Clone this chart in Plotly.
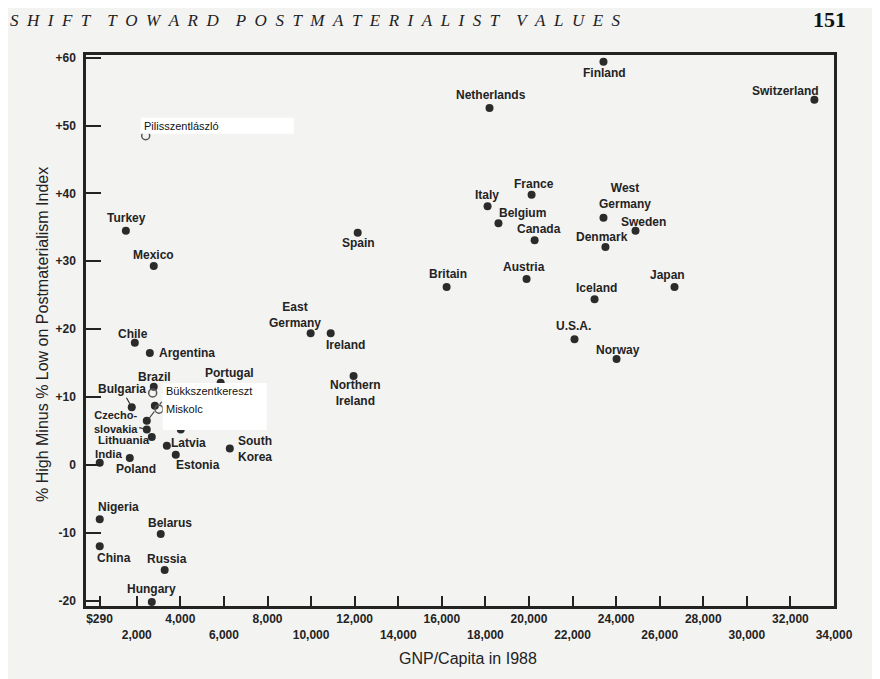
import plotly.graph_objects as go

# ---------------- data ----------------
countries = ["Finland", "Netherlands", "Switzerland", "Italy", "France", "Belgium", "Canada",
             "West<br>Germany", "Sweden", "Denmark", "Japan", "Austria", "Britain", "Iceland",
             "U.S.A.", "Norway", "Spain", "Turkey", "Mexico", "East<br>Germany", "Ireland",
             "Northern<br>Ireland", "Chile", "Argentina", "Brazil", "Portugal", "Bulgaria",
             "Czecho-<br>slovakia", "Lithuania", "Latvia", "Estonia", "South<br>Korea", "India",
             "Poland", "Nigeria", "China", "Belarus", "Russia", "Hungary"]
gnp = [23420, 18190, 33100, 18100, 20120, 18600, 20260,
       23420, 24890, 23510, 26680, 19890, 16220, 23010,
       22090, 24020, 12140, 1500, 2780, 9980, 10900,
       11950, 1910, 2600, 2780, 5850, 1770,
       2460, 2690, 3380, 3790, 6270, 300,
       1680, 300, 300, 3100, 3280, 2690]
postmat = [59.4, 52.6, 53.8, 38.1, 39.8, 35.6, 33.1,
           36.4, 34.5, 32.1, 26.2, 27.4, 26.2, 24.4,
           18.5, 15.6, 34.2, 34.5, 29.3, 19.4, 19.4,
           13.1, 18.0, 16.5, 11.5, 12.1, 8.5,
           5.2, 4.1, 2.8, 1.5, 2.4, 0.3,
           1.0, -8.0, -12.0, -10.2, -15.5, -20.2]

# unlabeled points (labels hidden in the source)
extra_gnp = [2460, 2830, 4020]
extra_postmat = [6.5, 8.7, 5.2]

# overlaid Hungarian localities
places = ["Pilisszentlászló", "Bükkszentkereszt", "Miskolc"]
places_gnp = [2410, 2730, 3020]
places_postmat = [48.5, 10.6, 8.2]

x_tickvals = [290, 2000, 4000, 6000, 8000, 10000, 12000, 14000, 16000, 18000,
              20000, 22000, 24000, 26000, 28000, 30000, 32000, 34000]
x_ticklabels = ["$290", "2,000", "4,000", "6,000", "8,000", "10,000", "12,000", "14,000",
                "16,000", "18,000", "20,000", "22,000", "24,000", "26,000", "28,000",
                "30,000", "32,000", "34,000"]
y_tickvals = [60, 50, 40, 30, 20, 10, 0, -10, -20]
y_ticklabels = ["+60", "+50", "+40", "+30", "+20", "+10", "0", "-10", "-20"]

# ---------------- styling (label offsets in px: dx right, dy down) ----------------
label_offsets = {
    "Finland": (1, 11), "Netherlands": (1, -13), "Switzerland": (-29, -9), "Italy": (-1, -11),
    "France": (2, -11), "Belgium": (24, -10), "Canada": (4, -11), "West<br>Germany": (22, -22),
    "Sweden": (8, -9), "Denmark": (-3, -10), "Japan": (-7, -12), "Austria": (-3, -12),
    "Britain": (1, -13), "Iceland": (2, -11), "U.S.A.": (-1, -13), "Norway": (1, -9),
    "Spain": (1, 10), "Turkey": (1, -13), "Mexico": (0, -11), "East<br>Germany": (-16, -18),
    "Ireland": (15, 12), "Northern<br>Ireland": (2, 17), "Chile": (-2, -9),
    "Argentina": (37, 0), "Brazil": (1, -10), "Portugal": (9, -10), "Bulgaria": (-10, -18),
    "Czecho-<br>slovakia": (-31, -8), "Lithuania": (-28, 3), "Latvia": (22, -3),
    "Estonia": (22, 10), "South<br>Korea": (25, 0), "India": (9, -9), "Poland": (6, 11),
    "Nigeria": (19, -12), "China": (14, 12), "Belarus": (9, -11), "Russia": (2, -11),
    "Hungary": (0, -13),
}
label_sizes = {"Czecho-<br>slovakia": 11, "Lithuania": 11.5, "India": 11.5}
leader_lines = {"Bulgaria", "Czecho-<br>slovakia"}
place_offsets = {"Pilisszentlászló": (-4, -10), "Bükkszentkereszt": (11, -2), "Miskolc": (5, 0)}

INK = "#232323"
BG = "#f3f3f2"
SANS = "Liberation Sans, Arial, sans-serif"
SERIF = "Liberation Serif, Times New Roman, serif"

# page offset of the figure inside the browser window
OFF = 8
W, H = 880, 679
L, R, T, B = 86 - OFF, W - (834 - OFF), 55 - OFF, H - (606 - OFF)
pw, ph = W - L - R, H - T - B


def px_x(sx):
    return (sx - OFF - L) / pw


def px_y(sy):
    return (H - B - (sy - OFF)) / ph


fig = go.Figure()

fig.add_trace(go.Scatter(
    x=gnp + extra_gnp, y=postmat + extra_postmat, mode="markers",
    marker=dict(size=8, color="#2b2b2b"), hoverinfo="skip", showlegend=False))

# white cover boxes (anchored to overlay locality points)
fig.add_shape(type="rect", xref="x", yref="y", xsizemode="pixel", ysizemode="pixel",
              xanchor=places_gnp[0], yanchor=places_postmat[0], x0=-5, x1=148, y0=2, y1=18,
              fillcolor="white", line=dict(width=0), layer="above")
fig.add_shape(type="rect", xref="x", yref="y", xsizemode="pixel", ysizemode="pixel",
              xanchor=places_gnp[1], yanchor=places_postmat[1], x0=10, x1=114, y0=-37, y1=10,
              fillcolor="white", line=dict(width=0), layer="above")
# dashed leader line from unlabeled point
fig.add_shape(type="line", xref="x", yref="y", xsizemode="pixel", ysizemode="pixel",
              xanchor=extra_gnp[0], yanchor=extra_postmat[0], x0=2, x1=15, y0=2, y1=19,
              line=dict(color="#444", width=1.2, dash="dash"), layer="above")

fig.add_trace(go.Scatter(
    x=places_gnp, y=places_postmat, mode="markers",
    marker=dict(size=8, symbol="circle-open", color="#555", line=dict(width=1.5)),
    hoverinfo="skip", showlegend=False))

annotations = []
for name, gx, py in zip(countries, gnp, postmat):
    dx, dy = label_offsets[name]
    annotations.append(dict(
        x=gx, y=py, xref="x", yref="y", text=name, showarrow=True,
        ax=dx, ay=dy, arrowhead=0, arrowwidth=1.1, standoff=4,
        arrowcolor=INK if name in leader_lines else "rgba(0,0,0,0)",
        font=dict(family=SANS, size=label_sizes.get(name, 12), color=INK, weight="bold"),
        align="center"))
for name, gx, py in zip(places, places_gnp, places_postmat):
    dx, dy = place_offsets[name]
    annotations.append(dict(
        x=gx, y=py, xref="x", yref="y", text=name, showarrow=False,
        xanchor="left", yanchor="middle", xshift=dx, yshift=-dy,
        font=dict(family=SANS, size=11, color="#111")))

# lower-row tick labels drop one line
x_ticktext = [lab if i % 2 == 0 else "<br>" + lab for i, lab in enumerate(x_ticklabels)]

# page header
header_words = ["SHIFT", "TOWARD", "POSTMATERIALIST", "VALUES"]
header = ("\u00a0" * 4).join(("\u00a0" * 2).join(w) for w in header_words)
annotations.append(dict(xref="paper", yref="paper", x=px_x(8), y=px_y(21),
                        xanchor="left", yanchor="middle", showarrow=False, text=header,
                        font=dict(family=SERIF, size=17, color="#222", style="italic")))
annotations.append(dict(xref="paper", yref="paper", x=px_x(829), y=px_y(19),
                        xanchor="center", yanchor="middle", showarrow=False, text="151",
                        font=dict(family=SERIF, size=22, color="#111", weight="bold")))
# axis titles
annotations.append(dict(xref="paper", yref="paper", x=px_x(468), y=px_y(658),
                        xanchor="center", yanchor="middle", showarrow=False,
                        text="GNP/Capita in I988",
                        font=dict(family=SANS, size=16, color="#222")))
annotations.append(dict(xref="paper", yref="paper", x=px_x(42), y=px_y(335),
                        xanchor="center", yanchor="middle", showarrow=False, textangle=-90,
                        text="% High Minus % Low on Postmaterialism Index",
                        font=dict(family=SANS, size=16, color="#222")))

fig.update_layout(
    width=W, height=H, margin=dict(l=L, r=R, t=T, b=B),
    paper_bgcolor=BG, plot_bgcolor=BG,
    annotations=annotations, showlegend=False,
    xaxis=dict(range=[-330, 34000], tickvals=x_tickvals, ticktext=x_ticktext,
               ticks="inside", ticklen=10, tickwidth=2, tickcolor=INK,
               showline=True, linecolor=INK, linewidth=2.5, mirror=True,
               showgrid=False, zeroline=False,
               tickfont=dict(family=SANS, size=12, color=INK, weight="bold")),
    yaxis=dict(range=[-20.8, 60.4], tickvals=y_tickvals, ticktext=y_ticklabels,
               ticks="inside", ticklen=15, tickwidth=2, tickcolor=INK,
               showline=True, linecolor=INK, linewidth=2.5, mirror=True,
               showgrid=False, zeroline=False, ticklabelstandoff=5,
               tickfont=dict(family=SANS, size=12, color=INK, weight="bold")),
)

fig.write_html("out.html")
